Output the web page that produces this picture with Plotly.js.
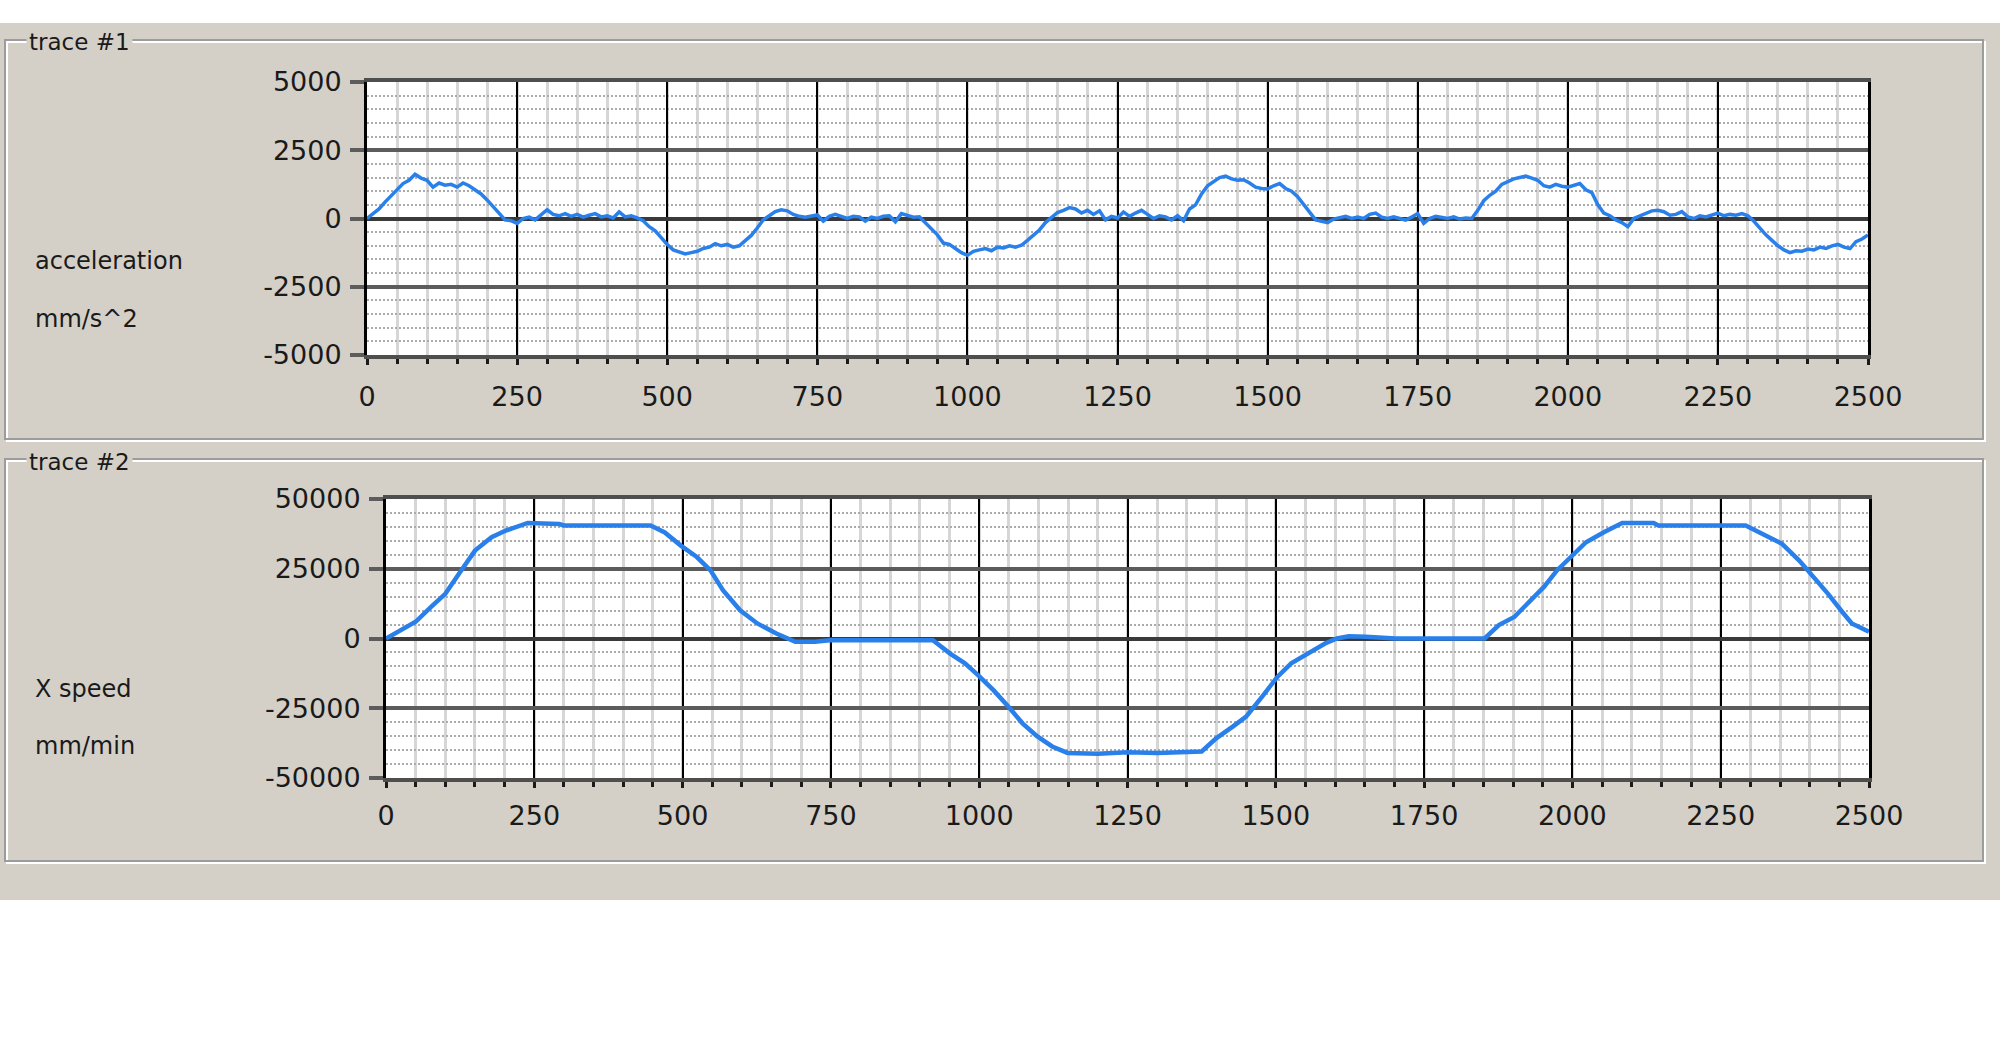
<!DOCTYPE html>
<html>
<head>
<meta charset="utf-8">
<script src="https://cdn.plot.ly/plotly-3.0.1.min.js"></script>
<style>
html,body{margin:0;padding:0;background:#ffffff;}
#chart{width:2000px;height:1039px;}
</style>
</head>
<body>
<div id="chart"></div>
<script>
// ---------------- DATA ----------------
const PANEL_TITLES = ["trace #1", "trace #2"];
const ACC_LABELS = ["acceleration", "mm/s^2"];
const SPEED_LABELS = ["X speed", "mm/min"];

const X_TICKS = [0, 250, 500, 750, 1000, 1250, 1500, 1750, 2000, 2250, 2500];
const ACC_TICKS = [-5000, -2500, 0, 2500, 5000];
const SPEED_TICKS = [-50000, -25000, 0, 25000, 50000];

// acceleration sampled every 10 ms (0 .. 2500)
const ACC_STEP = 10;
const ACC_V = [
  0, 180, 350, 600, 820, 1050, 1280, 1400, 1620, 1480,
  1400, 1150, 1300, 1220, 1250, 1150, 1300, 1200, 1050, 900,
  680, 430, 200, -50, -80, -180, 0, 50, -50, 150,
  320, 150, 100, 180, 80, 150, 50, 120, 180, 60,
  100, 20, 240, 60, 100, 20, -80, -300, -450, -700,
  -950, -1150, -1220, -1300, -1250, -1200, -1100, -1050, -920, -1000,
  -950, -1050, -1000, -800, -620, -350, -50, 100, 250, 320,
  280, 150, 80, 50, 100, 130, -100, 80, 150, 60,
  0, 80, 60, -100, 50, 0, 80, 100, -120, 180,
  120, 50, 60, -150, -400, -600, -900, -950, -1100, -1250,
  -1350, -1200, -1150, -1100, -1180, -1050, -1080, -1000, -1050, -980,
  -800, -600, -420, -150, 50, 220, 300, 400, 350, 200,
  300, 150, 280, -50, 80, 20, 240, 80, 200, 300,
  150, 0, 100, 60, -50, 100, -80, 350, 500, 900,
  1200, 1350, 1500, 1550, 1450, 1400, 1420, 1300, 1150, 1100,
  1080, 1200, 1280, 1100, 1000, 800, 500, 250, -50, -100,
  -150, -20, 20, 80, 0, 50, 0, 150, 200, 50,
  0, 60, 0, -60, 50, 180, -180, 0, 80, 40,
  0, 60, -20, 20, 0, 300, 650, 850, 1000, 1250,
  1350, 1450, 1500, 1550, 1480, 1400, 1200, 1150, 1250, 1180,
  1150, 1220, 1280, 1050, 950, 500, 200, 100, -50, -150,
  -300, 0, 100, 200, 280, 300, 250, 120, 150, 250,
  60, 0, 100, 60, 120, 200, 100, 150, 120, 180,
  100, -100, -350, -600, -800, -1000, -1150, -1250, -1180, -1200,
  -1120, -1150, -1050, -1100, -1000, -950, -1050, -1100, -850, -750,
  -600
];
const ACC_T = ACC_V.map((_, i) => i * ACC_STEP);

// X speed (mm/min) at read-off times (ms)
const SPEED_T = [
  0, 50, 76, 100, 125, 150, 178, 202, 239, 292, 300, 446, 470, 497, 524, 547, 568, 597, 626, 658,
  690, 723, 748, 922, 951, 976, 998, 1024, 1049, 1073, 1098, 1123, 1149, 1200, 1250, 1300, 1375,
  1400, 1428, 1450, 1477, 1503, 1526, 1553, 1583, 1603, 1623, 1652, 1702, 1852, 1876, 1902, 1925,
  1952, 1974, 2003, 2023, 2053, 2084, 2137, 2145, 2292, 2316, 2353, 2382, 2402, 2431, 2455, 2471, 2500
];
const SPEED_V = [
  0, 6000, 11300, 16000, 23800, 31500, 36300, 38700, 41400, 41000, 40500, 40500, 38000, 33300, 29200, 24400, 17300, 10100, 5400, 1800,
  -1200, -1200, -600, -600, -5400, -8900, -13100, -18500, -24400, -30400, -35100, -38700, -41000, -41300, -40800, -41000, -40500,
  -35700, -31500, -28000, -20800, -13700, -8900, -5400, -1800, 0, 800, 600, 0, 0, 4800, 7700, 12500,
  18500, 24400, 30400, 34500, 38100, 41400, 41400, 40500, 40500, 38000, 34000, 28000, 23200, 16000, 9500, 5400, 2400
];

// ---------------- LAYOUT HELPERS ----------------
const W = 2000, H = 1039;
const fx = v => v / W;
const fy = v => 1 - v / H;

const BG = '#d4d0c8';
const LINE_BLUE = '#2a80ea';
const TXT = '#1a1a1a';
const FONT = 'DejaVu Sans';
const tickFont = {family: FONT, size: 27, color: TXT};

function xAxis(domain, standoff) {
  return {
    domain: domain, range: [0, 2500], tickvals: X_TICKS, ticktext: X_TICKS.map(String),
    showgrid: true, gridcolor: '#000000', gridwidth: 2,
    zeroline: false,
    showline: true, linecolor: '#4e4e4e', linewidth: 4, mirror: true,
    ticks: 'outside', ticklen: 6, tickwidth: 3, tickcolor: '#1a1a1a',
    minor: {dtick: 50, showgrid: true, gridcolor: '#d6d6d6', gridwidth: 3,
            ticks: 'outside', ticklen: 5, tickwidth: 3, tickcolor: '#1a1a1a'},
    tickfont: tickFont, ticklabelstandoff: standoff, fixedrange: true
  };
}
function yAxis(domain, range, ticks, minorStep) {
  return {
    domain: domain, range: range, tickvals: ticks, ticktext: ticks.map(String),
    showgrid: true, gridcolor: '#5c5c5c', gridwidth: 4,
    zeroline: true, zerolinecolor: '#3a3a3a', zerolinewidth: 4,
    showline: true, linecolor: '#000000', linewidth: 3, mirror: true,
    ticks: 'outside', ticklen: 14, tickwidth: 4, tickcolor: '#5c5c5c',
    minor: {dtick: minorStep, showgrid: true, gridcolor: '#ababab', gridwidth: 2, griddash: '2px,2px'},
    tickfont: tickFont, ticklabelstandoff: 3, fixedrange: true
  };
}

function etchedFrame(x0, y0, x1, y1) {
  return [
    {type: 'rect', xref: 'paper', yref: 'paper', x0: fx(x0 + 2), x1: fx(x1 + 2), y0: fy(y0 + 2), y1: fy(y1 + 2),
     line: {color: '#ffffff', width: 2}, fillcolor: 'rgba(0,0,0,0)', layer: 'below'},
    {type: 'rect', xref: 'paper', yref: 'paper', x0: fx(x0), x1: fx(x1), y0: fy(y0), y1: fy(y1),
     line: {color: '#9c9c9c', width: 2}, fillcolor: 'rgba(0,0,0,0)', layer: 'below'}
  ];
}

const shapes = [
  {type: 'rect', xref: 'paper', yref: 'paper', x0: 0, x1: 1, y0: fy(0), y1: fy(23),
   line: {width: 0}, fillcolor: '#ffffff', layer: 'below'},
  {type: 'rect', xref: 'paper', yref: 'paper', x0: 0, x1: 1, y0: fy(900), y1: 0,
   line: {width: 0}, fillcolor: '#ffffff', layer: 'below'}
].concat(etchedFrame(5, 40, 1983, 439), etchedFrame(5, 459, 1983, 861));

function textAnn(text, x, y, size, bg) {
  const a = {text: text, xref: 'paper', yref: 'paper', x: fx(x), y: fy(y), xanchor: 'left', yanchor: 'middle',
             showarrow: false, font: {family: FONT, size: size, color: TXT}};
  if (bg) { a.bgcolor = BG; a.borderpad = 2; }
  return a;
}

const annotations = [
  textAnn(PANEL_TITLES[0], 26, 42, 23, true),
  textAnn(PANEL_TITLES[1], 26, 462, 23, true),
  textAnn(ACC_LABELS[0], 33, 261, 24),
  textAnn(ACC_LABELS[1], 33, 319, 24),
  textAnn(SPEED_LABELS[0], 33, 689, 24),
  textAnn(SPEED_LABELS[1], 33, 746, 24)
];

const data = [
  {x: ACC_T, y: ACC_V, xaxis: 'x', yaxis: 'y', type: 'scatter', mode: 'lines',
   line: {color: LINE_BLUE, width: 3.5}, hoverinfo: 'skip'},
  {x: SPEED_T, y: SPEED_V, xaxis: 'x2', yaxis: 'y2', type: 'scatter', mode: 'lines',
   line: {color: LINE_BLUE, width: 4.5}, hoverinfo: 'skip'}
];

const layout = {
  width: W, height: H,
  margin: {l: 0, r: 0, t: 0, b: 0, pad: 0},
  paper_bgcolor: BG, plot_bgcolor: '#ffffff',
  showlegend: false,
  xaxis: xAxis([fx(367), fx(1868)], 9),
  yaxis: yAxis([fy(355), fy(82)], [-5000, 5000], ACC_TICKS, 500),
  xaxis2: Object.assign(xAxis([fx(386), fx(1869)], 5), {anchor: 'y2'}),
  yaxis2: Object.assign(yAxis([fy(778), fy(499)], [-50000, 50000], SPEED_TICKS, 5000), {anchor: 'x2'}),
  shapes: shapes,
  annotations: annotations
};
layout.xaxis.anchor = 'y';
layout.yaxis.anchor = 'x';

Plotly.newPlot('chart', data, layout, {staticPlot: true, displayModeBar: false});
</script>
</body>
</html>
